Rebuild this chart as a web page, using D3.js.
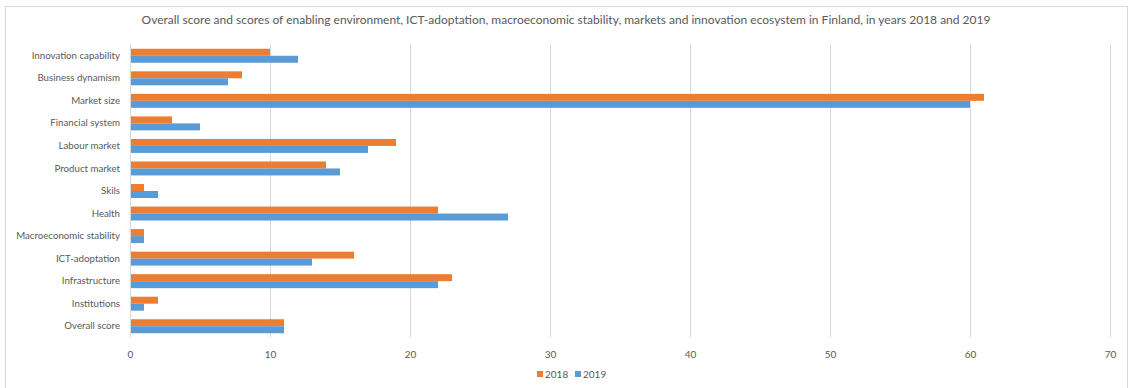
<!DOCTYPE html>
<html><head><meta charset="utf-8">
<script src="https://cdn.jsdelivr.net/npm/d3@7"></script>
<style>body{margin:0;background:#fff}svg{display:block}text{font-family:Lato,"Open Sans",sans-serif;fill:#595959}</style>
</head><body><svg id="c" width="1129" height="388"></svg>
<script>
const title = "Overall score and scores of enabling environment, ICT-adoptation, macroeconomic stability, markets and innovation ecosystem in Finland, in years 2018 and 2019";
const categories = ["Innovation capability","Business dynamism","Market size","Financial system","Labour market","Product market","Skils","Health","Macroeconomic stability","ICT-adoptation","Infrastructure","Institutions","Overall score"];
const values2018 = [10,8,61,3,19,14,1,22,1,16,23,2,11];
const values2019 = [12,7,60,5,17,15,2,27,1,13,22,1,11];
const seriesNames = ["2018","2019"];
const xTicks = [0,10,20,30,40,50,60,70];
const colors = ["#ED7D31","#5B9BD5"];

(function(){
const svg = d3.select("#c");
svg.append("rect").attr("x",5.5).attr("y",6.5).attr("width",1122).attr("height",400).attr("fill","#fff").attr("stroke","#d9d9d9");

const pL=130, pR=1110, pT=44.5, pB=337.5;
const x = d3.scaleLinear().domain([0,70]).range([pL,pR]);
const y = d3.scaleBand().domain(categories).range([pT,pB]).paddingInner(0.38).paddingOuter(0.19);
const ys = d3.scaleBand().domain(seriesNames).range([0,y.bandwidth()]);

svg.append("text").attr("x",566).attr("y",24).attr("text-anchor","middle").attr("font-size",12).text(title);

svg.append("g").selectAll("line").data(xTicks).join("line")
  .attr("x1",d=>Math.round(x(d))+0.5).attr("x2",d=>Math.round(x(d))+0.5)
  .attr("y1",pT).attr("y2",pB).attr("stroke","#d9d9d9");

const data = categories.map((c,i)=>({c, v:[values2018[i],values2019[i]]}));
const g = svg.append("g");
data.forEach(d=>{
  seriesNames.forEach((s,j)=>{
    g.append("rect").attr("x",x(0)+1).attr("y",y(d.c)+ys(s))
      .attr("width",x(d.v[j])-x(0)-1).attr("height",ys.bandwidth()).attr("fill",colors[j]);
  });
});

const ya = svg.append("g").attr("transform",`translate(${pL},0)`)
  .call(d3.axisLeft(y).tickSize(0).tickPadding(10));
ya.select(".domain").remove();
ya.selectAll("text").attr("font-size",9.7).attr("fill","#595959").style("font-family","Lato,'Open Sans',sans-serif");

const xa = svg.append("g").attr("transform",`translate(0,${pB})`)
  .call(d3.axisBottom(x).tickValues(xTicks).tickSize(0).tickPadding(13));
xa.select(".domain").remove();
xa.selectAll("text").attr("font-size",10).attr("fill","#595959").style("font-family","Lato,'Open Sans',sans-serif");

const lg = svg.append("g").attr("transform","translate(537,371)");
seriesNames.forEach((s,j)=>{
  const gx = j*38;
  lg.append("rect").attr("x",gx).attr("y",0).attr("width",6).attr("height",6).attr("fill",colors[j]);
  lg.append("text").attr("x",gx+8).attr("y",6.5).attr("font-size",10).text(s);
});
})();
</script></body></html>
